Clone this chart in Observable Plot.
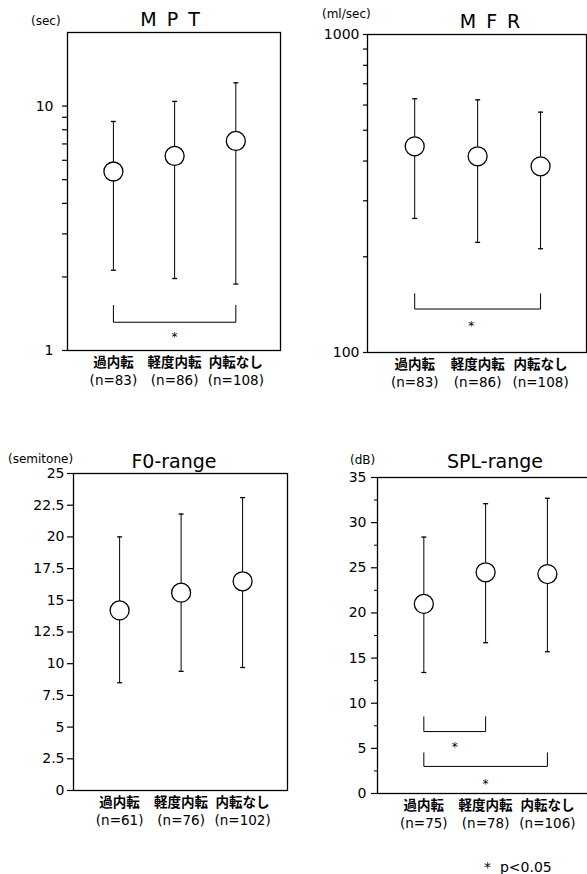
<!DOCTYPE html>
<html>
<head>
<meta charset="utf-8">
<script src="https://cdn.jsdelivr.net/npm/d3@7"></script>
<script src="https://cdn.jsdelivr.net/npm/@observablehq/plot@0.6"></script>
<style>
  html, body { margin: 0; padding: 0; background: white; }
  body { width: 587px; height: 874px; overflow: hidden; position: relative; font-family: "DejaVu Sans", sans-serif; color: black; }
  .panel { position: absolute; }
  .title { position: absolute; transform: translateX(-50%); white-space: nowrap; font-size: 19px; line-height: 1; }
  .unit { position: absolute; white-space: nowrap; font-size: 12px; line-height: 1; }
  .note { position: absolute; white-space: pre; font-size: 14px; line-height: 1; }
</style>
</head>
<body>
<script>
// ---- data ----
const categories = ["過内転", "軽度内転", "内転なし"];

const mptN = [83, 86, 108];
const mptMean = [5.4, 6.25, 7.2];
const mptLow = [2.13, 1.97, 1.87];
const mptHigh = [8.65, 10.45, 12.45];
const mptTicks = [1, 2, 3, 4, 5, 6, 7, 8, 9, 10];
const mptTickLabels = [1, 10];
const mptBrackets = [[0, 2, 1.305, 1.53]];
const mptStars = [[1, 1.17]];

const mfrN = [83, 86, 108];
const mfrMean = [445, 414, 385];
const mfrLow = [264, 222, 212];
const mfrHigh = [628, 623, 570];
const mfrTicks = [100, 200, 300, 400, 500, 600, 700, 800, 900, 1000];
const mfrTickLabels = [100, 1000];
const mfrBrackets = [[0, 2, 137, 153]];
const mfrStars = [[0.9, 124]];

const f0N = [61, 76, 102];
const f0Mean = [14.2, 15.6, 16.5];
const f0Low = [8.5, 9.4, 9.7];
const f0High = [20.0, 21.8, 23.1];
const f0Ticks = [0, 2.5, 5, 7.5, 10, 12.5, 15, 17.5, 20, 22.5, 25];

const splN = [75, 78, 106];
const splMean = [21.0, 24.5, 24.3];
const splLow = [13.4, 16.7, 15.7];
const splHigh = [28.4, 32.1, 32.7];
const splTicks = [0, 5, 10, 15, 20, 25, 30, 35];
const splMinor = [2.5, 7.5, 12.5, 17.5, 22.5, 27.5, 32.5];
const splBrackets = [[0, 1, 6.86, 8.5], [0, 2, 3.0, 4.5]];
const splStars = [[0.5, 5.5], [1, 1.4]];

// ---- drawing ----
const capSymbol = { draw(ctx) { ctx.moveTo(-2.5, 0); ctx.lineTo(2.5, 0); } };

function panel(o) {
  const rows = o.mean.map((m, i) => ({ i, mean: m, lo: o.low[i], hi: o.high[i] }));
  const bracketPaths = o.brackets.map(([a, b, y0, y1]) => [
    { x: a, y: y1 }, { x: a, y: y0 }, { x: b, y: y0 }, { x: b, y: y1 }
  ]);
  const starRows = o.stars.map(([x, y]) => ({ x, y }));
  const marks = [
    Plot.frame({ stroke: "black", strokeWidth: 1.3 }),
    Plot.axisY({
      ticks: o.ticks, tickSize: o.tickSize, tickPadding: o.tickPadding,
      tickFormat: o.tickLabels ? (d => o.tickLabels.includes(d) ? String(d) : "") : (d => String(d)),
      fontSize: 14, strokeWidth: 1.2, label: null
    })
  ];
  if (o.minor) marks.push(Plot.axisY({ ticks: o.minor, tickSize: 3, tickFormat: () => "", label: null }));
  marks.push(
    Plot.axisX({
      ticks: [0, 1, 2], tickSize: 0, tickPadding: 12.5, lineAnchor: "middle",
      tickFormat: i => categories[i],
      fontSize: 13.5, fontWeight: "bold",
      fontFamily: "'Noto Sans CJK JP', sans-serif", label: null
    }),
    Plot.axisX({
      ticks: [0, 1, 2], tickSize: 0, tickPadding: 30.5, lineAnchor: "middle",
      tickFormat: i => `(n=${o.n[i]})`,
      fontSize: 13.5, label: null
    }),
    ...bracketPaths.map(p => Plot.line(p, { x: "x", y: "y", stroke: "black", strokeWidth: 1 })),
    Plot.text(starRows, { x: "x", y: "y", text: () => "*", fontSize: 12, dy: 3 }),
    Plot.ruleX(rows, { x: "i", y1: "lo", y2: "hi", stroke: "black", strokeWidth: 1 }),
    Plot.dot(rows, { x: "i", y: "lo", symbol: capSymbol, stroke: "black", strokeWidth: 1.3, r: 3 }),
    Plot.dot(rows, { x: "i", y: "hi", symbol: capSymbol, stroke: "black", strokeWidth: 1.3, r: 3 }),
    Plot.dot(rows, { x: "i", y: "mean", r: 9.5, fill: "white", stroke: "black", strokeWidth: 1.3 })
  );
  const chart = Plot.plot({
    width: o.width, height: o.height,
    marginLeft: o.ml, marginRight: o.mr, marginTop: o.mt, marginBottom: o.mb,
    x: { type: "linear", domain: [-0.75, 2.73], axis: null },
    y: { type: o.type, domain: o.domain, axis: null },
    style: { fontFamily: "'DejaVu Sans', sans-serif", color: "black", background: "transparent", maxWidth: "none", overflow: "visible" },
    marks
  });
  const div = document.createElement("div");
  div.className = "panel";
  div.style.left = o.left + "px";
  div.style.top = o.top + "px";
  div.style.width = o.width + "px";
  div.appendChild(chart);
  document.body.appendChild(div);
}

panel({ left: 0, top: 0, width: 300, height: 400, ml: 67, mr: 20, mt: 32, mb: 50,
  type: "log", domain: [1, 20], ticks: mptTicks, tickLabels: mptTickLabels, tickSize: 5, tickPadding: 9,
  n: mptN, mean: mptMean, low: mptLow, high: mptHigh, brackets: mptBrackets, stars: mptStars });

panel({ left: 290, top: 0, width: 300, height: 400, ml: 77, mr: 4, mt: 34, mb: 48,
  type: "log", domain: [100, 1000], ticks: mfrTicks, tickLabels: mfrTickLabels, tickSize: 4, tickPadding: 4,
  n: mfrN, mean: mfrMean, low: mfrLow, high: mfrHigh, brackets: mfrBrackets, stars: mfrStars });

panel({ left: 0, top: 420, width: 300, height: 420, ml: 73, mr: 13, mt: 53, mb: 50,
  type: "linear", domain: [0, 25], ticks: f0Ticks, tickSize: 6, tickPadding: 3,
  n: f0N, mean: f0Mean, low: f0Low, high: f0High, brackets: [], stars: [] });

panel({ left: 290, top: 420, width: 310, height: 420, ml: 87, mr: 8, mt: 57, mb: 47,
  type: "linear", domain: [0, 35], ticks: splTicks, minor: splMinor, tickSize: 6, tickPadding: 5,
  n: splN, mean: splMean, low: splLow, high: splHigh, brackets: splBrackets, stars: splStars });

// ---- titles, units, note ----
function addText(cls, text, x, y) {
  const d = document.createElement("div");
  d.className = cls;
  d.textContent = text;
  d.style.left = x + "px";
  d.style.top = y + "px";
  document.body.appendChild(d);
  return d;
}
addText("title", "M P T", 171, 10).style.letterSpacing = "2px";
addText("title", "M F R", 491, 12).style.letterSpacing = "2px";
addText("title", "F0-range", 174, 452);
addText("title", "SPL-range", 495, 452);
addText("unit", "(sec)", 31, 15);
addText("unit", "(ml/sec)", 322, 8);
addText("unit", "(semitone)", 8, 453);
addText("unit", "(dB)", 350, 454);
addText("note", "*  p<0.05", 484, 860);
</script>
</body>
</html>
